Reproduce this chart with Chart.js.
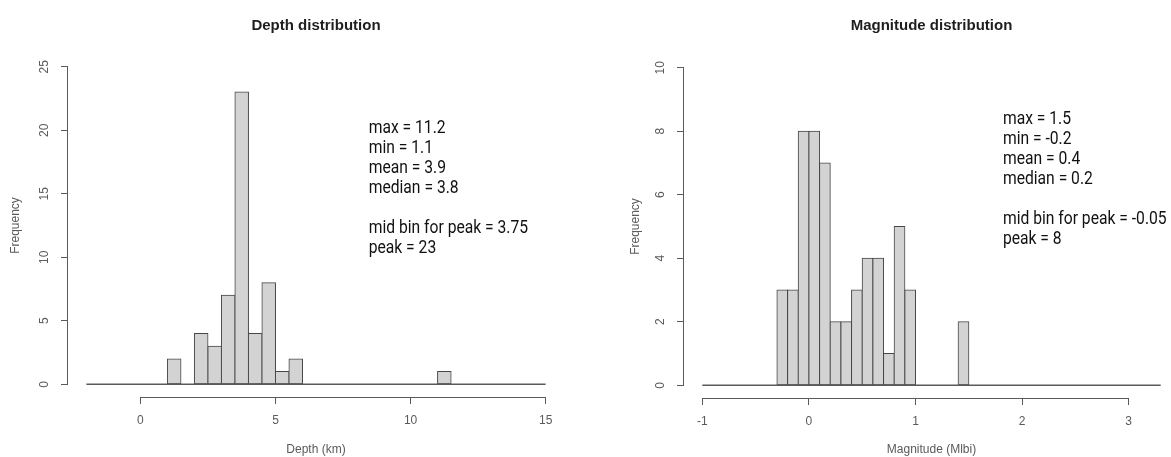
<!DOCTYPE html>
<html>
<head>
<meta charset="utf-8">
<script src="https://cdn.jsdelivr.net/npm/chart.js@4.4.1/dist/chart.umd.min.js"></script>
<style>
  html, body { margin: 0; padding: 0; background: #fff; }
  body { width: 1171px; height: 457px; overflow: hidden; position: relative; }
  .panel { position: absolute; top: 0; }
  #depth-panel { left: 0; }
  #mag-panel { left: 616px; }
</style>
</head>
<body>
<div class="panel" id="depth-panel"><canvas id="depth-chart" width="585" height="457"></canvas></div>
<div class="panel" id="mag-panel"><canvas id="mag-chart" width="585" height="457"></canvas></div>
<script>
// Depth histogram: bin mid points (0.5 km bins) and counts
const depthMids = [1.25, 1.75, 2.25, 2.75, 3.25, 3.75, 4.25, 4.75, 5.25, 5.75, 6.25,
  6.75, 7.25, 7.75, 8.25, 8.75, 9.25, 9.75, 10.25, 10.75, 11.25];
const depthCounts = [2, 0, 4, 3, 7, 23, 4, 8, 1, 2, 0, 0, 0, 0, 0, 0, 0, 0, 0, 0, 1];
const depthXLim = [-2, 15];
const depthYLim = [0, 25];
const depthXTicks = [0, 5, 10, 15];
const depthYTicks = [0, 5, 10, 15, 20, 25];
const depthStats = ['max = 11.2', 'min = 1.1', 'mean = 3.9', 'median = 3.8', '',
  'mid bin for peak = 3.75', 'peak = 23'];

// Magnitude histogram: bin mid points (0.1 Mlbi bins) and counts
const magMids = [-0.25, -0.15, -0.05, 0.05, 0.15, 0.25, 0.35, 0.45, 0.55, 0.65,
  0.75, 0.85, 0.95, 1.05, 1.15, 1.25, 1.35, 1.45];
const magCounts = [3, 3, 8, 8, 7, 2, 2, 3, 4, 4, 1, 5, 3, 0, 0, 0, 0, 2];
const magXLim = [-1, 3.3];
const magYLim = [0, 10];
const magXTicks = [-1, 0, 1, 2, 3];
const magYTicks = [0, 2, 4, 6, 8, 10];
const magStats = ['max = 1.5', 'min = -0.2', 'mean = 0.4', 'median = 0.2', '',
  'mid bin for peak = -0.05', 'peak = 8'];

// Estilos
const BAR_FILL = '#d3d3d3';
const BAR_EDGE = '#474747';
const AXIS_COLOR = '#5a5a5a';
const LABEL_COLOR = '#5a5a5a';
const BASE_FONT = "'Liberation Sans', Arial, sans-serif";
const NOTE_FONT = "18px Roboto, 'Noto Sans', sans-serif";
const NOTE_SQUEEZE = 0.87;
const NOTE_LINE = 20;

// R extends each axis range by 4%
function padRange([lo, hi]) {
  const d = (hi - lo) * 0.04;
  return [lo - d, hi + d];
}

// Axis lines, rotated y labels and the stats block, drawn in R style
const rAxesPlugin = {
  id: 'rAxes',
  afterDraw(chart, args, opts) {
    const { ctx, chartArea } = chart;
    const xs = chart.scales.x;
    const ys = chart.scales.y;
    ctx.save();
    ctx.strokeStyle = AXIS_COLOR;
    ctx.lineWidth = 1;

    const yb = Math.round(chartArea.bottom) + 0.5;
    ctx.beginPath();
    ctx.moveTo(xs.getPixelForValue(opts.xTicks[0]), yb);
    ctx.lineTo(xs.getPixelForValue(opts.xTicks[opts.xTicks.length - 1]), yb);
    ctx.stroke();

    const xl = Math.round(chartArea.left) - 0.5;
    ctx.beginPath();
    ctx.moveTo(xl, ys.getPixelForValue(opts.yTicks[0]));
    ctx.lineTo(xl, ys.getPixelForValue(opts.yTicks[opts.yTicks.length - 1]));
    ctx.stroke();

    ctx.fillStyle = LABEL_COLOR;
    ctx.font = '12px ' + BASE_FONT;
    ctx.textAlign = 'center';
    ctx.textBaseline = 'middle';
    opts.yTicks.forEach(v => {
      ctx.save();
      ctx.translate(chartArea.left - 23, ys.getPixelForValue(v));
      ctx.rotate(-Math.PI / 2);
      ctx.fillText(String(v), 0, 0);
      ctx.restore();
    });

    // Bloque de estadísticas
    ctx.fillStyle = '#111';
    ctx.font = NOTE_FONT;
    ctx.textAlign = 'left';
    const nx = xs.getPixelForValue(opts.noteAt.x);
    const ny = ys.getPixelForValue(opts.noteAt.y);
    opts.notes.forEach((line, i) => {
      if (!line) return;
      ctx.save();
      ctx.translate(nx, ny + i * NOTE_LINE);
      ctx.scale(NOTE_SQUEEZE, 1);
      ctx.fillText(line, 0, 0);
      ctx.restore();
    });
    ctx.restore();
  }
};

function makeHistogram(canvasId, cfg) {
  const xr = padRange(cfg.xLim);
  const yr = padRange(cfg.yLim);
  return new Chart(document.getElementById(canvasId), {
    type: 'bar',
    data: {
      datasets: [
        {
          type: 'line',
          data: [{ x: cfg.xLim[0], y: 0 }, { x: cfg.xLim[1], y: 0 }],
          borderColor: AXIS_COLOR,
          borderWidth: 1.5,
          pointRadius: 0,
          order: 0
        },
        {
          type: 'bar',
          data: cfg.mids.map((m, i) => ({ x: m, y: cfg.counts[i] })),
          backgroundColor: BAR_FILL,
          borderColor: BAR_EDGE,
          borderWidth: 1,
          borderSkipped: false,
          inflateAmount: 0.5,
          barPercentage: 1,
          categoryPercentage: 1,
          grouped: false,
          order: 1
        }
      ]
    },
    options: {
      responsive: false,
      animation: false,
      devicePixelRatio: 1,
      layout: { padding: { left: 0, top: 0, right: cfg.padRight, bottom: 0 } },
      plugins: {
        legend: { display: false },
        tooltip: { enabled: false },
        title: {
          display: true,
          text: cfg.title,
          fullSize: false,
          color: '#1e1e1e',
          font: { family: BASE_FONT, size: 15, weight: 'bold', lineHeight: 1.2 },
          padding: { top: cfg.titleTop, bottom: cfg.titleBottom }
        },
        rAxes: { xTicks: cfg.xTicks, yTicks: cfg.yTicks, notes: cfg.notes, noteAt: cfg.noteAt }
      },
      scales: {
        x: {
          type: 'linear',
          min: xr[0],
          max: xr[1],
          offset: false,
          afterBuildTicks: s => { s.ticks = cfg.xTicks.map(v => ({ value: v })); },
          afterFit: s => { s.height = cfg.xAxisHeight; },
          grid: {
            offset: false, drawOnChartArea: false, drawTicks: true, tickLength: 7,
            color: AXIS_COLOR, lineWidth: 1
          },
          border: { display: false },
          ticks: {
            autoSkip: false, maxRotation: 0, padding: 9,
            color: LABEL_COLOR, font: { family: BASE_FONT, size: 12 },
            callback: v => String(v)
          },
          title: {
            display: true, text: cfg.xTitle, color: LABEL_COLOR,
            font: { family: BASE_FONT, size: 12 }, padding: { top: 0, bottom: 0 }
          }
        },
        y: {
          type: 'linear',
          min: yr[0],
          max: yr[1],
          afterBuildTicks: s => { s.ticks = cfg.yTicks.map(v => ({ value: v })); },
          afterFit: s => { s.width = cfg.yAxisWidth; },
          grid: { drawOnChartArea: false, drawTicks: true, tickLength: 7, color: AXIS_COLOR, lineWidth: 1 },
          border: { display: false },
          ticks: { display: false },
          title: {
            display: true, text: 'Frequency', color: LABEL_COLOR,
            font: { family: BASE_FONT, size: 12 }, padding: { top: cfg.yTitlePad, bottom: 0 }
          }
        }
      }
    },
    plugins: [rAxesPlugin]
  });
}

makeHistogram('depth-chart', {
  title: 'Depth distribution',
  xTitle: 'Depth (km)',
  mids: depthMids, counts: depthCounts,
  xLim: depthXLim, yLim: depthYLim,
  xTicks: depthXTicks, yTicks: depthYTicks,
  notes: depthStats, noteAt: { x: 8.45, y: 20.15 },
  padRight: 21, titleTop: 17, titleBottom: 19,
  xAxisHeight: 60, yAxisWidth: 68, yTitlePad: 8
});

makeHistogram('mag-chart', {
  title: 'Magnitude distribution',
  xTitle: 'Magnitude (Mlbi)',
  mids: magMids, counts: magCounts,
  xLim: magXLim, yLim: magYLim,
  xTicks: magXTicks, yTicks: magYTicks,
  notes: magStats, noteAt: { x: 1.82, y: 8.37 },
  padRight: 22, titleTop: 17, titleBottom: 20,
  xAxisHeight: 59, yAxisWidth: 68, yTitlePad: 12
});
</script>
</body>
</html>
